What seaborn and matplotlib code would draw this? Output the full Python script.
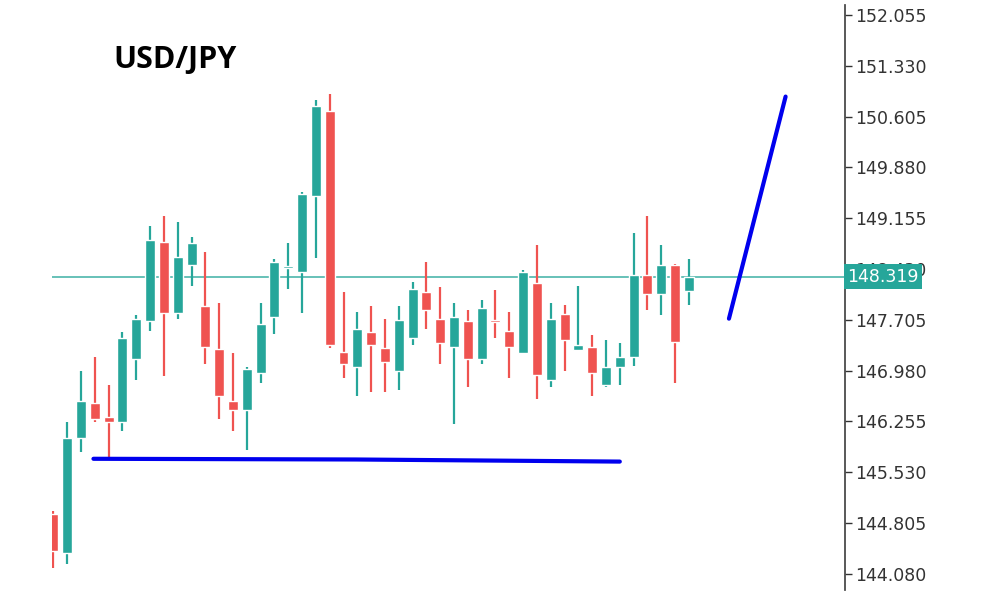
import numpy as np
import pandas as pd
import matplotlib
matplotlib.use('Agg')
import matplotlib.pyplot as plt
import seaborn as sns

# candles, left to right
opens  = [144.93, 144.38, 146.01, 146.51, 146.32, 146.24, 147.14, 147.68, 148.81, 147.80, 148.48,
          147.90, 147.28, 146.55, 146.41, 146.94, 147.75, 148.44, 148.38, 149.47, 150.68,
          147.24, 147.03, 147.53, 147.30, 146.98, 147.45, 148.10, 147.71, 147.32, 147.68,
          147.14, 147.69, 147.55, 147.23, 148.23, 146.84, 147.78, 147.27, 147.32, 146.77,
          147.03, 147.17, 148.34, 148.07, 148.48, 148.11]
closes = [144.40, 146.01, 146.54, 146.29, 146.24, 147.44, 147.71, 148.84, 147.80, 148.60, 148.80,
          147.31, 146.61, 146.41, 147.00, 147.64, 148.53, 148.44, 149.50, 150.75, 147.34,
          147.07, 147.57, 147.34, 147.10, 147.70, 148.14, 147.84, 147.37, 147.75, 147.15,
          147.87, 147.67, 147.32, 148.38, 146.91, 147.72, 147.41, 147.34, 146.94, 147.03,
          147.17, 148.34, 148.07, 148.48, 147.38, 148.31]
highs  = [144.98, 146.24, 146.97, 147.17, 146.78, 147.53, 147.77, 149.04, 149.18, 149.10, 148.88,
          148.67, 147.94, 147.23, 147.03, 147.94, 148.57, 148.80, 149.53, 150.84, 150.93,
          148.10, 147.82, 147.90, 147.71, 147.90, 148.25, 148.53, 148.17, 147.95, 147.85,
          147.98, 148.13, 147.82, 148.41, 148.77, 147.94, 147.91, 148.18, 147.48, 147.41,
          147.37, 148.94, 149.18, 148.77, 148.50, 148.57]
lows   = [144.16, 144.22, 145.82, 146.24, 145.72, 146.12, 146.84, 147.55, 146.90, 147.72, 148.18,
          147.07, 146.29, 146.11, 145.84, 146.80, 147.50, 148.15, 147.80, 148.58, 147.30,
          146.87, 146.62, 146.68, 146.68, 146.70, 147.34, 147.57, 147.07, 146.21, 146.74,
          147.07, 147.44, 146.87, 147.23, 146.58, 146.74, 146.98, 147.27, 146.62, 146.75,
          146.77, 147.04, 147.85, 147.77, 146.80, 147.91]

current_price = 148.319
support_x = [2.9, 21.9, 41.0]
support_y = [145.72, 145.71, 145.68]
trend_x = [48.9, 53.0]
trend_y = [147.72, 150.89]
yticks = [144.080, 144.805, 145.530, 146.255, 146.980, 147.705, 148.430, 149.155, 149.880, 150.605, 151.330, 152.055]

UP, DOWN = '#26a69a', '#ef5350'

sns.set_theme(style='white')
df = pd.DataFrame({'o': opens, 'c': closes, 'h': highs, 'l': lows})
df['x'] = np.arange(len(df))
df['col'] = np.where(df['c'] >= df['o'], UP, DOWN)

fig = plt.figure(figsize=(10, 6), dpi=100)
ax = fig.add_axes([0.052, 0.017, 0.793, 0.975])
ax.vlines(df['x'], df['l'], df['h'], colors=df['col'], lw=1.6, zorder=2)
body_bottom = np.minimum(df['o'], df['c'])
body_h = np.maximum(np.abs(df['c'] - df['o']), 0.03)
ax.bar(df['x'], body_h, bottom=body_bottom, width=0.72, color=df['col'], zorder=3)

ax.axhline(current_price, color='#4db6ac', lw=1.2, zorder=1)
sns.lineplot(x=support_x, y=support_y, ax=ax, color='#0000ee', lw=3, zorder=4)
sns.lineplot(x=trend_x, y=trend_y, ax=ax, color='#0000ee', lw=3, zorder=4)

ax.set_xlim(-0.1, 57.3)
ax.set_ylim(143.85, 152.2)
ax.yaxis.tick_right()
ax.set_yticks(yticks)
ax.set_yticklabels([f'{t:.3f}' for t in yticks], fontsize=12.5, color='#333333')
ax.tick_params(axis='y', length=5, width=1, color='#333333', pad=2, right=True)
ax.set_xticks([])
for s in ['top', 'left', 'bottom']:
    ax.spines[s].set_visible(False)
ax.spines['right'].set_color('#444444')
ax.text(1.003, current_price, f'{current_price:.3f}', transform=ax.get_yaxis_transform(),
        va='center', ha='left', fontsize=12.5, color='white', zorder=10,
        bbox=dict(boxstyle='square,pad=0.2', fc='#26a69a', ec='none'))
fig.text(0.113, 0.9, 'USD/JPY', fontsize=22, fontweight='bold', family='Open Sans',
         color='black', va='center')

fig.savefig('out.png', dpi=100)
